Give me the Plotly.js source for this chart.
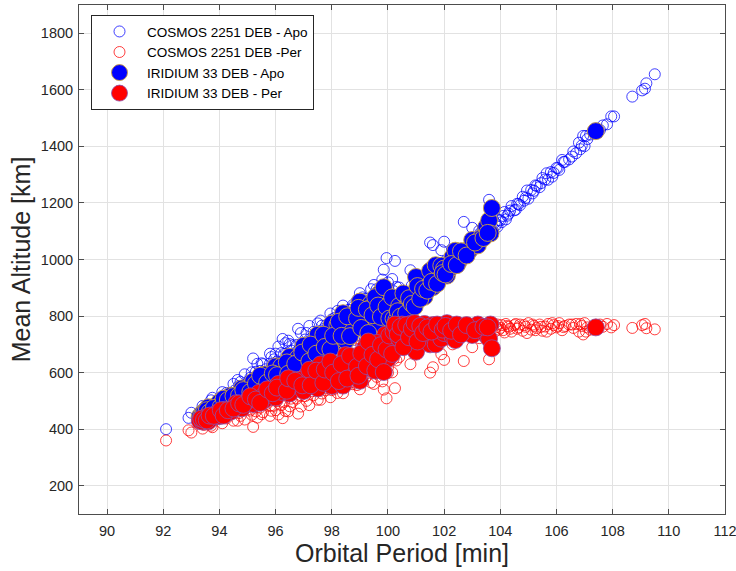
<!DOCTYPE html>
<html>
<head>
<meta charset="utf-8">
<script src="https://cdn.plot.ly/plotly-3.0.1.min.js"></script>
<style>html,body{margin:0;padding:0;background:#fff;}#chart{width:736px;height:571px;}</style>
</head>
<body>
<div id="chart"></div>
<script>
// COSMOS 2251 debris: orbital period [min], apogee [km], perigee [km]
const cosmosPeriod = [
 92.1,92.9,93.0,93.3,93.4,93.5,93.6,93.7,93.8,93.9,
 94.0,94.1,94.2,94.3,94.4,94.5,94.6,94.7,94.8,94.9,
 95.0,95.1,95.2,95.2,95.3,95.4,95.5,95.5,95.6,95.7,
 95.8,95.9,96.0,96.0,96.1,96.2,96.3,96.4,96.5,96.5,
 96.6,96.7,96.8,96.8,96.9,97.0,97.0,97.1,97.2,97.3,
 97.3,97.4,97.5,97.5,97.6,97.7,97.7,97.8,97.9,98.0,
 98.0,98.1,98.2,98.2,98.3,98.4,98.4,98.5,98.6,98.6,
 98.7,98.8,98.8,98.9,99.0,99.0,99.1,99.2,99.2,99.3,
 99.4,99.4,99.5,99.6,99.6,99.7,99.8,99.8,99.85,99.95,
 99.9,100.0,100.0,100.1,100.2,100.25,
 93.55,94.05,94.55,94.65,95.05,95.35,95.65,95.95,96.15,96.35,96.45,96.75,96.95,97.15,97.35,97.55,97.85,97.95,
 98.15,98.35,98.55,98.75,98.95,99.15,99.35,99.55,99.75,99.95,100.05,100.15,96.25,97.05,98.05,99.05,99.65,
 93.45,93.75,93.95,94.25,94.45,94.75,94.85,95.15,95.25,95.45,
 95.75,95.85,96.05,96.25,96.55,96.65,96.85,97.05,97.25,97.45,
 97.65,97.75,98.05,98.25,98.45,98.65,98.85,99.05,99.25,99.45,
 99.65,99.85,100.05,100.2,97.2,98.9,96.1,99.5,
 95.55,95.8,96.2,96.45,96.6,96.9,97.15,97.35,97.6,97.8,
 98.1,98.2,98.4,98.6,98.75,98.8,99.0,99.1,99.2,99.3,
 99.4,99.5,99.6,99.7,99.75,99.9,100.0,100.1,100.15,100.25,
 100.3,100.45,100.65,100.85,101.05,101.25,101.45,101.65,101.85,102.05,
 102.5,103.25,
 100.3,100.4,100.5,100.6,100.7,100.8,100.9,101.0,101.1,101.2,
 101.3,101.4,101.5,101.6,101.7,101.8,101.9,102.0,102.0,102.1,
 102.2,102.3,102.4,102.5,102.6,102.7,102.7,102.8,102.9,103.0,
 103.1,103.2,103.3,103.4,103.5,103.6,103.6,103.7,103.8,103.9,
 104.0,104.1,104.2,104.3,104.4,104.5,104.6,104.7,104.8,104.9,
 105.0,105.1,105.2,105.3,105.4,105.5,105.6,105.7,105.8,105.9,
 106.0,106.1,106.2,106.3,106.45,106.6,106.7,106.8,106.9,106.95,
 107.0,107.1,107.2,107.55,107.65,107.8,107.95,108.05,108.7,109.05,
 109.15,109.2,109.5,
 100.6,101.3,102.4,103.0,100.4,100.8,101.1,101.5,101.9,102.3,
 103.85,103.95,104.05,104.15,104.25,104.35,104.55,104.65,104.85,104.95,
 105.15,105.25,105.45,105.65,105.85,106.05,106.25,106.55,106.85,107.05,
 100.35,100.55,100.75,100.95,101.15,101.35,101.55,101.75,101.95,102.15,
 102.35,102.55,102.75,102.95,103.15,103.35,103.55,103.75
];
const cosmosApogee = [
 400,440,458,449,482,472,460,502,479,496,
 481,531,503,523,495,560,528,553,524,594,
 554,582,650,549,603,580,551,633,600,583,
 632,577,667,612,634,602,666,626,701,601,
 664,636,755,660,700,635,690,740,670,724,
 641,694,774,669,724,754,699,673,728,788,
 703,758,733,818,702,792,837,762,737,822,
 792,716,761,821,791,881,751,821,861,780,
 850,750,820,895,785,850,819,929,964,1005,
 784,849,899,824,778,995,
 464,505,537,574,571,631,612,647,609,704,660,698,655,707,744,696,754,809,
 705,765,797,839,759,793,858,802,872,857,806,931,719,645,680,728,752,
 475,511,489,528,523,567,552,601,576,606,
 605,655,639,634,678,643,683,717,692,722,
 766,686,745,775,750,809,794,838,788,828,
 822,862,836,888,765,856,692,910,
 630,667,669,713,696,740,682,677,784,768,
 793,748,777,797,779,836,811,866,791,843,
 895,840,815,885,842,874,919,854,806,865,
 903,860,858,908,891,924,928,964,964,994,
 1029,1102,
 781,804,794,832,824,817,872,857,854,885,
 868,915,898,1051,930,918,958,1063,943,966,
 951,998,986,1006,996,1133,1019,1010,1050,1040,
 1060,1050,1095,1080,1080,1211,1106,1103,1131,1116,
 1138,1154,1142,1162,1189,1174,1197,1192,1222,1218,
 1215,1246,1243,1260,1256,1288,1283,1282,1309,1306,
 1324,1317,1352,1345,1354,1382,1376,1413,1403,1437,
 1401,1426,1442,1458,1474,1478,1506,1506,1576,1598,
 1604,1623,1655,
 862,935,1024,1112,901,962,942,1060,1033,1036,
 1122,1140,1132,1168,1155,1173,1176,1196,1208,1244,
 1234,1262,1270,1305,1293,1323,1345,1364,1390,1437,
 780,810,840,838,868,878,916,909,946,954,
 990,988,1018,1026,1068,1069,1114,1100
];
const cosmosPerigee = [
 360,396,388,425,402,422,444,412,443,436,
 461,421,459,447,485,430,472,457,494,434,
 484,466,408,509,463,496,535,453,496,523,
 482,547,467,522,510,552,496,546,481,581,
 528,566,455,550,520,595,540,500,580,534,
 617,574,504,609,564,544,599,633,588,538,
 623,578,613,528,652,572,527,612,647,562,
 602,686,641,591,631,541,681,621,581,670,
 610,710,650,585,695,640,679,569,540,509,
 724,669,619,704,758,545,
 434,441,457,430,471,441,488,483,539,464,516,508,571,537,520,586,558,513,
 635,595,581,559,659,643,598,672,622,657,716,601,439,589,650,698,732,
 415,407,449,438,463,447,472,451,486,476,
 505,465,499,524,508,553,533,517,562,552,
 526,616,585,575,620,579,614,588,658,638,
 662,642,686,648,485,556,452,560,
 460,447,485,463,496,480,562,587,504,538,
 543,598,587,587,619,566,611,566,651,607,
 565,630,665,605,652,634,599,674,726,675,
 643,700,720,690,725,712,728,710,730,718,
 725,722,
 765,752,770,742,760,775,730,755,768,745,
 772,735,762,619,750,770,740,645,765,752,
 775,738,760,748,768,641,755,772,742,762,
 750,770,735,758,768,647,752,765,745,770,
 758,750,772,762,745,768,755,770,748,762,
 775,752,765,758,770,748,763,772,755,768,
 760,775,750,765,770,758,772,745,765,735,
 775,760,752,770,762,772,760,768,758,768,
 772,757,753,
 712,705,722,690,655,630,680,600,665,700,
 760,752,768,742,765,755,772,760,768,740,
 770,750,762,745,775,765,761,770,772,745,
 772,760,748,770,758,768,750,775,758,768,
 750,772,760,770,748,765,740,772
];

// IRIDIUM 33 debris: orbital period [min], apogee [km], perigee [km]
const iridiumPeriod = [
 93.3,93.4,93.5,93.7,93.9,94.0,94.2,94.4,94.6,94.8,
 95.0,95.2,95.4,95.6,95.8,96.0,96.1,96.3,96.5,96.6,
 96.8,97.0,97.1,97.3,97.5,97.6,97.8,98.0,98.1,98.3,
 98.4,98.5,98.7,98.8,99.0,99.1,99.2,99.4,99.5,99.7,
 99.8,99.9,100.0,100.1,
 93.6,94.1,94.9,95.5,96.2,96.9,97.4,97.9,98.2,98.6,99.3,99.6,
 93.35,93.45,93.55,93.65,93.8,94.05,94.15,94.3,94.5,94.7,
 94.85,95.1,95.3,95.45,95.7,95.9,96.05,96.4,96.45,96.7,
 96.95,97.2,97.25,97.45,97.7,97.75,97.95,98.05,98.25,98.35,
 98.55,98.65,98.9,98.95,99.05,99.25,99.3,99.45,99.55,99.65,
 99.75,99.85,99.95,100.05,100.15,
 100.2,100.3,100.4,100.5,100.6,100.7,100.8,100.9,101.0,101.1,
 101.2,101.3,101.5,101.6,101.7,101.8,101.9,102.0,102.1,102.2,
 102.3,102.4,102.5,102.7,102.9,103.0,103.2,103.3,103.5,103.6,
 103.65,103.7,107.4,
 100.25,100.35,100.45,100.55,100.65,100.75,100.85,100.95,101.05,101.15,
 101.25,101.4,101.55,101.75,101.95,102.05,102.25,102.45,102.6,102.8,
 103.1,103.4,103.55
];
const iridiumApogee = [
 445,457,452,477,476,496,493,518,508,544,
 537,569,548,593,582,622,584,619,656,616,
 653,695,650,689,734,659,723,773,708,762,
 810,712,797,761,851,796,751,845,790,880,
 839,774,869,829,
 477,494,536,573,622,645,679,713,768,767,825,775,
 443,457,467,460,475,479,508,503,517,519,
 538,532,561,589,565,597,591,636,596,631,
 671,640,699,667,734,691,683,730,780,730,
 799,729,791,829,758,823,740,803,867,837,
 797,902,832,791,866,
 791,786,836,794,874,834,820,837,938,887,
 875,868,960,902,980,928,978,968,943,968,
 1009,1031,989,1029,1032,1069,1050,1075,1115,1138,
 1092,1182,1454,
 770,817,798,880,810,863,843,833,906,861,
 896,890,921,914,952,947,984,980,1029,1014,
 1060,1076,1094
];
const iridiumPerigee = [
 429,427,442,437,456,446,469,462,492,474,
 501,489,528,503,532,512,560,543,526,576,
 557,535,590,569,544,629,583,553,628,592,
 554,662,597,641,571,636,691,615,680,610,
 659,734,649,699,
 427,458,492,513,532,575,589,603,578,617,625,705,
 437,433,431,448,447,467,448,467,473,491,
 486,516,505,493,541,527,547,536,580,571,
 555,610,555,607,564,611,639,600,570,630,
 579,659,621,589,668,623,710,663,607,647,
 697,602,682,731,666,
 745,760,720,770,700,750,772,765,674,735,
 755,772,700,768,700,760,720,740,775,758,
 727,715,765,745,760,733,770,755,733,720,
 770,686,760,
 770,735,762,690,768,725,755,775,710,765,
 740,760,745,770,752,765,748,770,735,768,
 750,762,760
];

const seriesNames = ['COSMOS 2251 DEB - Apo','COSMOS 2251 DEB -Per','IRIDIUM 33 DEB - Apo','IRIDIUM 33 DEB - Per'];
const xTicks = [90,92,94,96,98,100,102,104,106,108,110,112];
const yTicks = [200,400,600,800,1000,1200,1400,1600,1800];

const FONT = 'Liberation Sans, Arial, Helvetica, sans-serif';
const INK = '#262626';
const FRAME = '#4d4d4d';

const traces = [
 {type:'scatter', mode:'markers', name:seriesNames[0], x:cosmosPeriod, y:cosmosApogee,
  marker:{symbol:'circle-open', size:11, color:'rgba(0,0,255,0.75)', line:{width:1}}},
 {type:'scatter', mode:'markers', name:seriesNames[1], x:cosmosPeriod, y:cosmosPerigee,
  marker:{symbol:'circle-open', size:11, color:'rgba(255,0,0,0.75)', line:{width:1}}},
 {type:'scatter', mode:'markers', name:seriesNames[2], x:iridiumPeriod, y:iridiumApogee,
  marker:{symbol:'circle', size:17, color:'#0000ff', line:{width:1, color:'rgba(205,160,60,0.9)'}}},
 {type:'scatter', mode:'markers', name:seriesNames[3], x:iridiumPeriod, y:iridiumPerigee,
  marker:{symbol:'circle', size:17, color:'#ff0000', line:{width:1, color:'rgba(140,80,170,0.8)'}}}
];

const axisCommon = {
  showline:true, linecolor:FRAME, linewidth:1, mirror:'ticks',
  ticks:'inside', ticklen:5, tickcolor:FRAME, tickwidth:1,
  showgrid:true, gridcolor:'#e2e2e2', gridwidth:1, zeroline:false,
  ticklabeloverflow:'allow',
  tickfont:{family:FONT, size:14.5, color:INK}
};

const layout = {
  width:736, height:571,
  margin:{l:79, r:11, t:5, b:57},
  paper_bgcolor:'#fff', plot_bgcolor:'#fff',
  showlegend:true,
  legend:{x:0.0186, y:0.98, xanchor:'left', yanchor:'top', itemwidth:45,
    bgcolor:'#fff', bordercolor:INK, borderwidth:1,
    font:{family:FONT, size:13.5, color:'#000'}},
  xaxis:Object.assign({}, axisCommon, {
    range:[89,112], tickvals:xTicks, ticktext:xTicks.map(String), ticklabelstandoff:4,
    title:{text:'Orbital Period [min]', font:{family:FONT, size:25, color:INK}, standoff:5}
  }),
  yaxis:Object.assign({}, axisCommon, {
    range:[100,1900], tickvals:yTicks, ticktext:yTicks.map(String), ticklabelstandoff:2,
    title:{text:'Mean Altitude [km]', font:{family:FONT, size:25, color:INK}, standoff:3}
  })
};

Plotly.newPlot('chart', traces, layout, {displayModeBar:false, staticPlot:true});
</script>
</body>
</html>
